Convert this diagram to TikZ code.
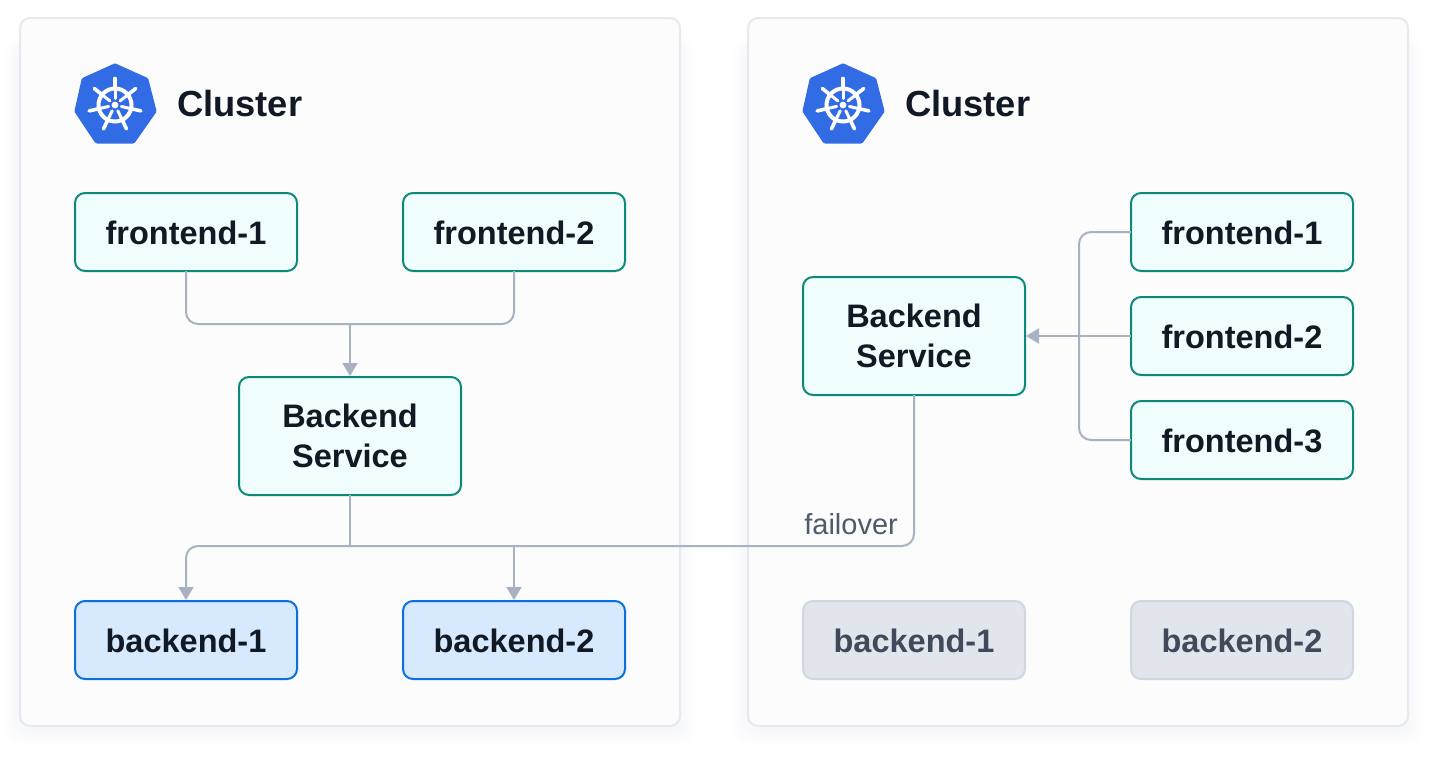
\documentclass[tikz,border=0pt]{standalone}
\usepackage{fontspec}
\setmainfont{Liberation Sans}
\usetikzlibrary{arrows.meta,calc}
\definecolor{panelfill}{HTML}{FCFCFD}
\definecolor{panelline}{HTML}{E7E9EE}
\definecolor{tealline}{HTML}{0B8A7A}
\definecolor{tealfill}{HTML}{EFFDFD}
\definecolor{blueline}{HTML}{0B6FE0}
\definecolor{bluefill}{HTML}{D6E9FD}
\definecolor{grayfill}{HTML}{E1E5EC}
\definecolor{grayline}{HTML}{D1D7E0}
\definecolor{graytext}{HTML}{414A5B}
\definecolor{wire}{HTML}{A8B2C0}
\definecolor{ink}{HTML}{111A24}
\definecolor{faillabel}{HTML}{4F5A6B}
\definecolor{kube}{HTML}{326CE5}
\definecolor{shadowtint}{HTML}{F6F7F9}
\tikzset{
  panel/.style={draw=panelline,line width=2pt,fill=panelfill,rounded corners=10pt},
  basebox/.style={rounded corners=10pt,line width=2pt,minimum width=222pt,minimum height=78pt,
    inner sep=0pt,outer sep=0pt,align=center,font=\fontsize{32.5}{40}\selectfont\bfseries,
    execute at begin node={\rule{0pt}{26pt}}},
  tealbox/.style={basebox,draw=tealline,fill=tealfill,text=ink},
  tallbox/.style={tealbox,minimum height=118pt},
  bluebox/.style={basebox,draw=blueline,fill=bluefill,text=ink},
  graybox/.style={basebox,draw=grayline,fill=grayfill,text=graytext},
  wireline/.style={draw=wire,line width=2pt,rounded corners=12pt},
  wirearrow/.style={wireline,-{Triangle[length=13pt,width=15pt]},shorten >=1pt},
  title/.style={anchor=base west,inner sep=0pt,text=ink,font=\fontsize{36.3}{40}\selectfont\bfseries},
  faillab/.style={anchor=base east,inner sep=0pt,text=faillabel,font=\fontsize{29}{30}\selectfont},
}
\newcommand{\softshadow}[4]{%
  \foreach \e in {20,...,1}{
    \pgfmathsetmacro{\mixpct}{100*(21-\e)/20}
    \fill[shadowtint!\mixpct!white,rounded corners=14pt]
      ({#1+2-0.8*\e},{#2+24}) rectangle ({#3-2+0.8*\e},{#4-1+\e});
  }
}
\newcommand{\helmicon}[2]{%
  \begin{scope}[shift={(#1,#2)}]
    \fill[kube,draw=kube,line width=5pt,line join=round]
      (0,-38) -- (31,-24) -- (39,7) -- (18,37) -- (-18,37) -- (-38,7) -- (-31,-24) -- cycle;
    \draw[white,line width=4pt] (0,1) circle (16.5);
    \fill[white] (0,1) circle (3.4);
    \foreach \k in {0,...,6}{
      \pgfmathsetmacro{\ang}{-90+\k*360/7}
      \draw[white,line width=3pt,line cap=round]
        ({6.5*cos(\ang)},{1+6.5*sin(\ang)}) -- ({17*cos(\ang)},{1+17*sin(\ang)});
      \draw[white,line width=3.6pt,line cap=round]
        ({17*cos(\ang)},{1+17*sin(\ang)}) -- ({26.5*cos(\ang)},{1+26.5*sin(\ang)});
    }
  \end{scope}
}
\begin{document}
\begin{tikzpicture}[x=1pt,y=-1pt]
  \useasboundingbox (0,0) rectangle (1438,758);
  \fill[white] (0,0) rectangle (1438,758);

  \softshadow{19}{17}{681}{727}
  \softshadow{747}{17}{1409}{727}
  \draw[panel] (20,18) rectangle (680,726);
  \draw[panel] (748,18) rectangle (1408,726);

  \helmicon{115}{104}
  \helmicon{843}{104}
  \node[title] (lefttitle) at (177,116) {Cluster};
  \node[title] (righttitle) at (905,116) {Cluster};

  % left cluster
  \node[tealbox] (lf1) at (186,232) {frontend-1};
  \node[tealbox] (lf2) at (514,232) {frontend-2};
  \node[tallbox] (lbs) at (350,436) {Backend\\Service};
  \node[bluebox] (lb1) at (186,640) {backend-1};
  \node[bluebox] (lb2) at (514,640) {backend-2};

  % right cluster
  \node[tallbox] (rbs) at (914,336) {Backend\\Service};
  \node[tealbox] (rf1) at (1242,232) {frontend-1};
  \node[tealbox] (rf2) at (1242,336) {frontend-2};
  \node[tealbox] (rf3) at (1242,440) {frontend-3};
  \node[graybox] (rb1) at (914,640) {backend-1};
  \node[graybox] (rb2) at (1242,640) {backend-2};

  \coordinate (ljoin) at (350,324);
  \coordinate (lbus) at (350,546);
  \coordinate (lbusdrop) at (514,546);
  \coordinate (rspine) at (1079,336);

  % connectors
  \draw[wireline] (lf1.south) |- (ljoin) -| (lf2.south);
  \draw[wirearrow] (ljoin) -- (lbs.north);
  \draw[wireline] (lbs.south) -- (lbus);
  \draw[wirearrow] (rbs.south) |- (lbus) -| (lb1.north);
  \draw[wirearrow] (lbusdrop) -- (lb2.north);
  \draw[wireline] (rf1.west) -| (rspine) |- (rf3.west);
  \draw[wirearrow] (rf2.west) -- (rbs.east);

  \node[faillab] (failoverlabel) at (898,534) {failover};
\end{tikzpicture}
\end{document}
